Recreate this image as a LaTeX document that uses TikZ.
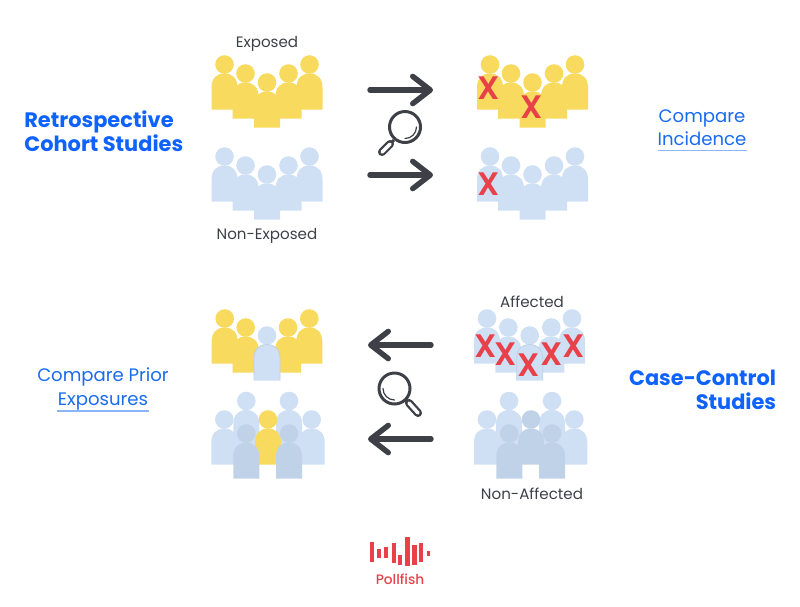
\documentclass[tikz,border=0pt]{standalone}
\usepackage{fontspec}
\setmainfont{Poppins}
\newfontfamily\medfont{Poppins Medium}
\newfontfamily\semifont{Poppins SemiBold}
\usetikzlibrary{arrows.meta}
\definecolor{peopleyellow}{HTML}{F7DA5E}
\definecolor{peopleblue}{HTML}{CFE0F5}
\definecolor{peopledark}{HTML}{C0D2E8}
\definecolor{darktext}{HTML}{3D4047}
\definecolor{headblue}{HTML}{0F62FE}
\definecolor{linkblue}{HTML}{1A6BF0}
\definecolor{logored}{HTML}{E8414A}
\tikzset{
  yellowp/.style={fill=peopleyellow},
  bluep/.style={fill=peopleblue},
  darkp/.style={fill=peopledark},
  edge/.style={draw=peopledark,line width=0.5pt},
  grouplabel/.style={text=darktext,font=\fontsize{8.6}{10}\selectfont},
  headlabel/.style={text=headblue,inner sep=0pt,font=\fontsize{11.9}{13.6}\selectfont\bfseries},
  linklabel/.style={text=linkblue,font=\fontsize{10.3}{12.5}\selectfont},
  underl/.style={draw=linkblue!50,line width=0.6pt},
  bigarrow/.style={draw=darktext,line width=3.1pt,line cap=round,-{Straight Barb[round,length=10pt,width=15.5pt]}},
  cross/.style={text=logored,font=\fontsize{18.5}{19}\selectfont\semifont},
  lens/.style={draw=darktext,line width=1.7pt},
  glint/.style={draw=darktext,line width=0.7pt,line cap=round},
  bar/.style={fill=logored},
}
% x, y of the head, style
\newcommand{\person}[3]{
  \path[#3] (#1,#2) circle (9.3);
  \path[#3] (#1-13,#2+45) -- (#1-13,#2+23) .. controls (#1-13,#2+14) and (#1-8,#2+9) .. (#1,#2+9) .. controls (#1+8,#2+9) and (#1+13,#2+14) .. (#1+13,#2+23) -- (#1+13,#2+45) -- cycle;
}
\newcommand{\personedge}[2]{
  \draw[edge] (#1-13,#2+45) -- (#1-13,#2+23) .. controls (#1-13,#2+14) and (#1-8,#2+9) .. (#1,#2+9) .. controls (#1+8,#2+9) and (#1+13,#2+14) .. (#1+13,#2+23) -- (#1+13,#2+45);
}
\newcommand{\crowd}[3]{
  \person{#1-42.5}{#2}{#3}
  \person{#1+42.5}{#2}{#3}
  \person{#1-21.5}{#2+9}{#3}
  \person{#1+21.5}{#2+9}{#3}
  \person{#1}{#2+18}{#3}
}
% handle from a to b
\newcommand{\handle}[4]{
  \draw[darktext,line width=4.6pt,line cap=round] (#1,#2) -- (#3,#4);
  \draw[white,line width=2pt,line cap=round] (#1,#2) -- (#3,#4);
}
\begin{document}
\begin{tikzpicture}[x=0.02cm,y=-0.02cm]
\useasboundingbox (0,0) rectangle (800,606);

% cohort, left
\crowd{267}{64.5}{yellowp}
\crowd{267}{156.5}{bluep}
\node[grouplabel] (exposed) at (267,44) {Exposed};
\node[grouplabel] (nonexposed) at (267,236) {Non-Exposed};

% cohort, right
\crowd{532.5}{64.5}{yellowp}
\crowd{532.5}{156.5}{bluep}
\node[cross] (xa) at (489,88) {X};
\node[cross] (xb) at (532,107) {X};
\node[cross] (xc) at (489,184) {X};

% case-control, left
\person{224.7}{318.5}{yellowp}
\person{309.3}{318.5}{yellowp}
\person{245.7}{327.5}{yellowp}
\person{288}{327.5}{yellowp}
\person{267}{335.5}{bluep}
\personedge{267}{335.5}

\person{246.3}{401}{bluep}
\person{289}{401}{bluep}
\person{224.3}{419.5}{bluep}
\person{311.7}{419.5}{bluep}
\person{268}{419.5}{yellowp}
\person{246.3}{433.5}{darkp}
\person{289}{433.5}{darkp}

% case-control, right
\person{487}{318.5}{bluep}
\person{572}{318.5}{bluep}
\person{508.3}{327.5}{bluep}
\person{551.3}{327.5}{bluep}
\person{529.7}{335.5}{bluep}
\personedge{529.7}{335.5}
\node[cross] (xd) at (485.3,346) {X};
\node[cross] (xe) at (505.7,354.3) {X};
\node[cross] (xf) at (529,365.3) {X};
\node[cross] (xg) at (551.3,354.3) {X};
\node[cross] (xh) at (573.3,346) {X};
\node[grouplabel] (affected) at (532,302) {Affected};

\person{509}{401}{bluep}
\person{552}{401}{bluep}
\person{487}{419.5}{bluep}
\person{574.3}{419.5}{bluep}
\person{531}{419.5}{darkp}
\person{509.3}{433.5}{darkp}
\person{552}{433.5}{darkp}
\node[grouplabel] (nonaffected) at (532,494) {Non-Affected};

% arrows
\coordinate (ra) at (370,90);
\coordinate (rb) at (433,90);
\coordinate (rc) at (370,175);
\coordinate (rd) at (433,175);
\coordinate (la) at (431,345);
\coordinate (lb) at (368,345);
\coordinate (lc) at (431,439);
\coordinate (ld) at (368,439);
\draw[bigarrow] (ra) -- (rb);
\draw[bigarrow] (rc) -- (rd);
\draw[bigarrow] (la) -- (lb);
\draw[bigarrow] (lc) -- (ld);

% lenses
\draw[lens] (405,127) circle (15.5);
\draw[glint] (416.5,127) arc (0:90:11.5);
\draw[lens] (394,140) -- (390,144);
\handle{390}{144}{382}{152}
\draw[lens] (394.5,388.5) circle (15.5);
\draw[glint] (383,388.5) arc (180:90:11.5);
\draw[lens] (405.5,399.5) -- (409,403);
\handle{409}{403}{418}{413}

% side labels
\node[headlabel,align=left,anchor=west] (cohort) at (24,131.5) {Retrospective\\Cohort Studies};
\node[headlabel,align=right,anchor=east] (casecontrol) at (776.5,390) {Case-Control\\Studies};
\node[linklabel] (compare) at (702,118.5) {Compare};
\node[linklabel] (incidence) at (702,139) {Incidence};
\draw[underl] (658,150.5) -- (747,150.5);
\node[linklabel] (compareprior) at (103,377) {Compare Prior};
\node[linklabel] (exposures) at (103,402) {Exposures};
\draw[underl] (57,411) -- (149,411);

% logo
\foreach \xa/\xb/\ya/\yb in {370/374/541.5/562, 377.3/381.3/549/558, 384.3/388.3/547/558, 391.7/395.7/542.5/563, 398.3/402.3/554.5/564.5, 405/409.7/537/565.5, 412.3/416.7/544.5/564.5, 419.3/423.3/543/562, 426.7/430/550.5/556}
  \fill[bar] (\xa,\ya) rectangle (\xb,\yb);
\node[text=logored,font=\fontsize{7.8}{9}\selectfont\medfont] (pollfish) at (400,579) {Pollfish};
\end{tikzpicture}
\end{document}
